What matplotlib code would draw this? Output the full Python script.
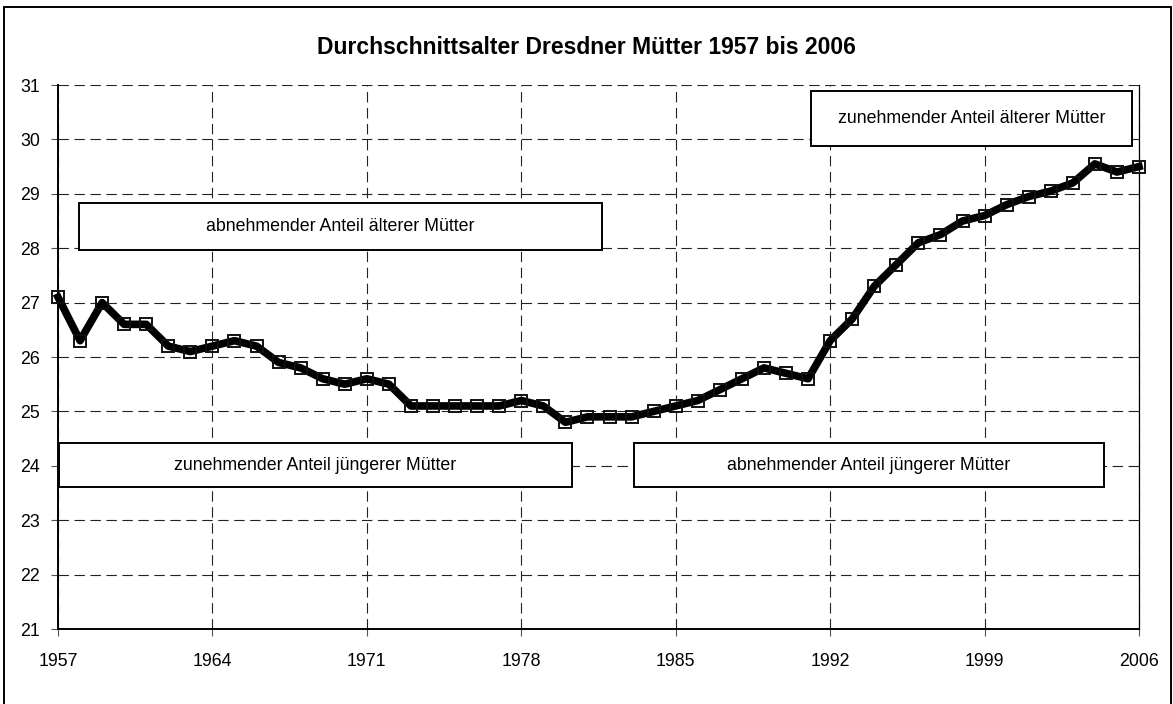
import matplotlib
matplotlib.use("Agg")
import matplotlib.pyplot as plt
from matplotlib.patches import Rectangle

years = list(range(1957, 2007))
avg_age = [27.1, 26.3, 27.0, 26.6, 26.6, 26.2, 26.1, 26.2, 26.3, 26.2,
           25.9, 25.8, 25.6, 25.5, 25.6, 25.5, 25.1, 25.1, 25.1, 25.1,
           25.1, 25.2, 25.1, 24.8, 24.9, 24.9, 24.9, 25.0, 25.1, 25.2,
           25.4, 25.6, 25.8, 25.7, 25.6, 26.3, 26.7, 27.3, 27.7, 28.1,
           28.25, 28.5, 28.6, 28.8, 28.95, 29.05, 29.2, 29.55, 29.4, 29.5]
xtick_years = [1957, 1964, 1971, 1978, 1985, 1992, 1999, 2006]
ytick_vals = list(range(21, 32))
title = "Durchschnittsalter Dresdner Mütter 1957 bis 2006"
box_labels = ["abnehmender Anteil älterer Mütter",
              "zunehmender Anteil jüngerer Mütter",
              "abnehmender Anteil jüngerer Mütter",
              "zunehmender Anteil älterer Mütter"]

plt.rcParams['font.family'] = ['Liberation Sans', 'DejaVu Sans']
plt.rcParams['lines.scale_dashes'] = False

W, H = 1173, 704
fig = plt.figure(figsize=(W / 100, H / 100), dpi=100)


def fx(px):
    return px / W


def fy(py):
    return 1 - py / H


ax_l, ax_r, ax_t, ax_b = 58, 1139, 85, 629
ax = fig.add_axes([fx(ax_l), fy(ax_b), fx(ax_r) - fx(ax_l), fy(ax_t) - fy(ax_b)])

ax.plot(years, avg_age, color='black', lw=5.5, marker='s', ms=9,
        mfc='none', mec='#111111', mew=1.4, zorder=3, clip_on=False)

ax.set_xlim(1957, 2006)
ax.set_ylim(21, 31)
ax.set_xticks(xtick_years)
ax.set_yticks(ytick_vals)
ax.grid(True, color='#222222', lw=0.8, linestyle=(0, (7.5, 4)))
ax.set_axisbelow(True)
ax.tick_params(axis='both', direction='out', length=5, width=0.8,
               color='#555555', labelsize=12.8)
ax.tick_params(axis='y', pad=8)
ax.tick_params(axis='x', pad=12)
for s in ['left', 'bottom']:
    ax.spines[s].set_linewidth(1.4)
ax.spines['right'].set_linewidth(0.9)
ax.spines['top'].set_visible(False)

fig.text(0.5, fy(47), title, ha='center', va='center', fontsize=16.5,
         fontweight='bold')

boxes = [(79, 203, 602, 250), (59, 443, 572, 487),
         (634, 443, 1104, 487), (811, 91, 1132, 146)]
for (l, t, r, b), lab in zip(boxes, box_labels):
    fig.patches.append(Rectangle((fx(l), fy(b)), fx(r) - fx(l), fy(t) - fy(b),
                                 transform=fig.transFigure, facecolor='white',
                                 edgecolor='black', lw=1.4, zorder=5))
    fig.text(fx((l + r) / 2), fy((t + b) / 2), lab, ha='center', va='center',
             fontsize=12.8, zorder=6)

fig.patches.append(Rectangle((fx(4), fy(712)), fx(1171) - fx(4), fy(7) - fy(712),
                             transform=fig.transFigure, facecolor='none',
                             edgecolor='black', lw=1.4, zorder=7))

fig.savefig("out.png", dpi=100)
